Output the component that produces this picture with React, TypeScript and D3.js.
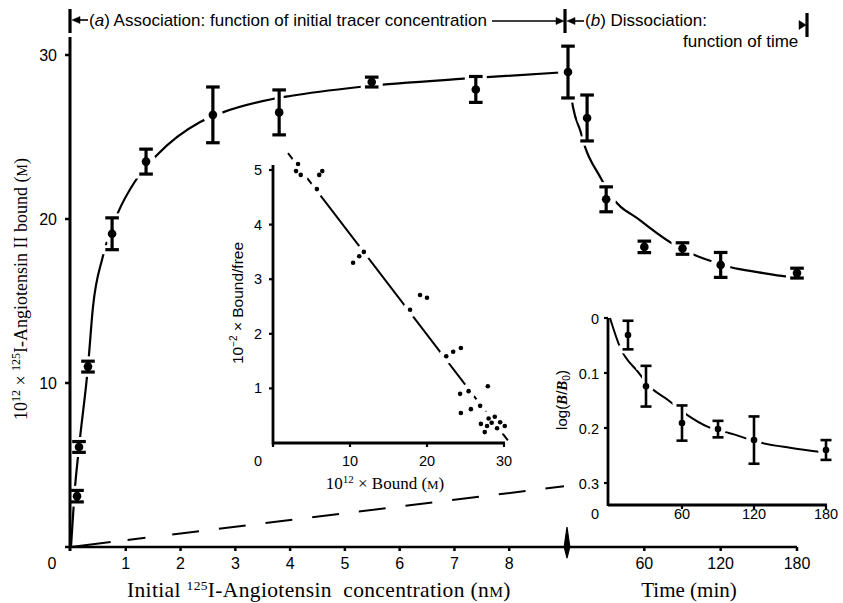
import React from "react";
import * as d3 from "d3";

// ---------- (a) Association: bound vs initial tracer concentration ----------
const assocConc = [0.11, 0.146, 0.31, 0.75, 1.37, 2.59, 3.8, 5.49, 7.39];
const assocBound = [3.1, 6.1, 11.0, 19.1, 23.5, 26.35, 26.5, 28.35, 27.9];
const assocErr = [0.35, 0.33, 0.33, 0.97, 0.76, 1.7, 1.37, 0.3, 0.79];

const assocFitConc = [0, 0.06, 0.15, 0.31, 0.4, 0.58, 0.86, 1.17, 1.57, 2.35, 2.77, 3.66, 4.0, 5.26, 7.38, 9.0];
const assocFitBound = [0, 3.1, 6.2, 11.0, 14.6, 17.7, 20.4, 22.3, 23.9, 25.9, 26.5, 27.3, 27.5, 28.05, 28.6, 28.95];

// ---------- (b) Dissociation: bound vs time ----------
const dissocTime = [0, 15, 30, 60, 90, 120, 180];
const dissocBound = [28.96, 26.16, 21.2, 18.3, 18.2, 17.2, 16.7];
const dissocErr = [1.58, 1.4, 0.76, 0.35, 0.35, 0.76, 0.3];

const dissocFitTime = [0, 4, 10, 13.4, 25, 33, 57, 80, 98, 114, 128, 150, 171, 180];
const dissocFitBound = [28.96, 26.8, 25.3, 24.4, 22.6, 21.5, 19.9, 18.6, 17.85, 17.4, 17.06, 16.75, 16.5, 16.45];

// guide line from origin (main data coords)
const guideConc = [0, 9.0];
const guideBound = [0, 3.7];

// ---------- Inset 1: Scatchard ----------
const scatBound = [3.25, 2.99, 3.6, 6.4, 6.0, 5.7, 10.4, 11.2, 11.8, 17.8, 19.1, 20.0, 22.5, 23.4, 24.4, 24.3, 24.4, 25.4, 25.7, 26.9, 27.9, 27.0, 27.5, 27.8, 28.0, 28.4, 28.8, 29.1, 29.5, 30.1];
const scatBF = [5.11, 4.98, 4.91, 4.98, 4.91, 4.65, 3.3, 3.42, 3.5, 2.44, 2.71, 2.66, 1.59, 1.67, 1.74, 0.9, 0.55, 0.95, 0.62, 0.68, 1.04, 0.35, 0.2, 0.31, 0.45, 0.37, 0.48, 0.27, 0.38, 0.31];
const scatLineBound = [1.95, 30.5];
const scatLineBF = [5.31, 0.05];

// ---------- Inset 2: log(B/B0) vs time ----------
const logTime = [15, 30, 60, 90, 120, 180];
const logVal = [0.031, 0.124, 0.191, 0.202, 0.222, 0.24];
const logErr = [0.026, 0.037, 0.032, 0.015, 0.043, 0.018];
const logFitTime = [0, 8.3, 23.3, 33.3, 48.3, 64.2, 81.7, 104, 122.5, 150, 177.5];
const logFitVal = [0, 0.053, 0.098, 0.125, 0.149, 0.176, 0.198, 0.212, 0.225, 0.236, 0.244];

// ---------- ticks ----------
const concTicks = [1, 2, 3, 4, 5, 6, 7, 8];
const timeTicks = [60, 120, 180];
const boundTicks = [10, 20, 30];
const scatXTicks = [10, 20, 30];
const scatYTicks = [1, 2, 3, 4, 5];
const logXTicks = [60, 120, 180];
const logYTicks = [0, 0.1, 0.2, 0.3];
const logYLabels = ["0", "0.1", "0.2", "0.3"];

const SANS = "'Liberation Sans', Arial, Helvetica, sans-serif";
const SERIF = "'Liberation Serif', 'Times New Roman', Times, serif";

type P = [number, number];

export default function App() {
  const xC = d3.scaleLinear().domain([0, 9]).range([71, 564]);
  const xT = d3.scaleLinear().domain([0, 180]).range([568, 797]);
  const yM = d3.scaleLinear().domain([0, 30]).range([547, 55]);
  const xS = d3.scaleLinear().domain([0, 30]).range([273, 504]);
  const yS = d3.scaleLinear().domain([0, 5]).range([443, 170]);
  const xL = d3.scaleLinear().domain([0, 180]).range([610, 826]);
  const yL = d3.scaleLinear().domain([0, 0.3]).range([318, 483]);

  const smooth = d3.line<P>().curve(d3.curveMonotoneX);
  const straight = d3.line<P>();

  const assocPath = smooth(assocFitConc.map((c, i) => [xC(c), yM(assocFitBound[i])] as P)) || "";
  const dissocPath = smooth(dissocFitTime.map((t, i) => [xT(t), yM(dissocFitBound[i])] as P)) || "";
  const guidePath = straight(guideConc.map((c, i) => [xC(c), yM(guideBound[i])] as P)) || "";
  const scatPath = straight(scatLineBound.map((b, i) => [xS(b), yS(scatLineBF[i])] as P)) || "";
  const logPath = smooth(logFitTime.map((t, i) => [xL(t), yL(logFitVal[i])] as P)) || "";

  type M = { x: number; y: number; y1: number; y2: number };
  const mainMarks: M[] = [
    ...assocConc.map((c, i) => ({ x: xC(c), y: yM(assocBound[i]), y1: yM(assocBound[i] + assocErr[i]), y2: yM(assocBound[i] - assocErr[i]) })),
    ...dissocTime.map((t, i) => ({ x: xT(t), y: yM(dissocBound[i]), y1: yM(dissocBound[i] + dissocErr[i]), y2: yM(dissocBound[i] - dissocErr[i]) })),
  ];
  const logMarks: M[] = logTime.map((t, i) => ({ x: xL(t), y: yL(logVal[i]), y1: yL(logVal[i] - logErr[i]), y2: yL(logVal[i] + logErr[i]) }));
  const scatPts = scatBound.map((b, i) => ({ x: xS(b), y: yS(scatBF[i]) }));

  const halo = (m: M, r: number, sw: number, cw: number, key: string) => (
    <g key={key}>
      <circle cx={m.x} cy={m.y} r={r} fill="#fff" />
      <line x1={m.x} x2={m.x} y1={m.y1} y2={m.y2} stroke="#fff" strokeWidth={sw} strokeLinecap="square" />
      <line x1={m.x - cw} x2={m.x + cw} y1={m.y1} y2={m.y1} stroke="#fff" strokeWidth={sw} strokeLinecap="square" />
      <line x1={m.x - cw} x2={m.x + cw} y1={m.y2} y2={m.y2} stroke="#fff" strokeWidth={sw} strokeLinecap="square" />
    </g>
  );
  const mark = (m: M, r: number, sw: number, cw: number, key: string) => (
    <g key={key}>
      <line x1={m.x} x2={m.x} y1={m.y1} y2={m.y2} stroke="#000" strokeWidth={sw} />
      <line x1={m.x - cw} x2={m.x + cw} y1={m.y1} y2={m.y1} stroke="#000" strokeWidth={sw} />
      <line x1={m.x - cw} x2={m.x + cw} y1={m.y2} y2={m.y2} stroke="#000" strokeWidth={sw} />
      <circle cx={m.x} cy={m.y} r={r} fill="#000" />
    </g>
  );

  const axisY = yM(0);
  const axisX = xC(0) - 1;

  return (
    <svg width={843} height={603} viewBox="0 0 843 603" style={{ position: "absolute", left: 0, top: 0, background: "#fff" }}>
      <rect x={0} y={0} width={843} height={603} fill="#fff" />

      {/* curves */}
      <g fill="none" stroke="#000">
        <path d={assocPath} strokeWidth={2.2} />
        <path d={dissocPath} strokeWidth={2.2} />
        <path d={guidePath} strokeWidth={2} strokeDasharray="40,17,18,27,27,20,27,20,27,20,27,20,27,20,27,20,27,20,27,20,27,20,40,20" />
        <path d={scatPath} strokeWidth={2} />
        <path d={logPath} strokeWidth={2} />
      </g>

      {/* halos that break the curves around markers */}
      {mainMarks.map((m, i) => halo(m, 10, 9, 6.5, "hm" + i))}
      {logMarks.map((m, i) => halo(m, 8, 8, 5.5, "hl" + i))}
      {scatPts.map((p, i) => <circle key={"hs" + i} cx={p.x} cy={p.y} r={7.5} fill="#fff" />)}

      {/* ---------- Main axes ---------- */}
      <g stroke="#000">
        <line x1={axisX} x2={axisX} y1={axisY + 1} y2={37} strokeWidth={3} />
        <line x1={axisX} x2={xT(180)} y1={axisY} y2={axisY} strokeWidth={2.5} />
        {boundTicks.concat([0]).map((b) => (
          <line key={"yt" + b} x1={axisX - 5} x2={axisX} y1={yM(b)} y2={yM(b)} strokeWidth={2.5} />
        ))}
        {concTicks.map((c) => (
          <line key={"xt" + c} x1={xC(c)} x2={xC(c)} y1={axisY} y2={axisY + 4} strokeWidth={2.5} />
        ))}
        {timeTicks.map((t) => (
          <line key={"tt" + t} x1={xT(t)} x2={xT(t)} y1={axisY} y2={axisY + 4} strokeWidth={2.5} />
        ))}
        <line x1={axisX} x2={axisX} y1={axisY} y2={axisY + 4} strokeWidth={3} />
      </g>
      {/* axis break marker */}
      <path d={`M${xT(0) - 1},${axisY - 20} L${xT(0) + 1.8},${axisY} L${xT(0) - 1},${axisY + 11} L${xT(0) - 3.8},${axisY} Z`} fill="#000" stroke="#000" strokeWidth={1.2} />

      {/* main tick labels */}
      <g fontFamily={SANS} fontSize={16} fill="#000">
        {boundTicks.map((b) => (
          <text key={"yl" + b} x={57} y={yM(b)} textAnchor="end" dominantBaseline="central">{b}</text>
        ))}
        <text x={52} y={569} textAnchor="middle">0</text>
        {concTicks.map((c) => (
          <text key={"xl" + c} x={xC(c)} y={569} textAnchor="middle">{c}</text>
        ))}
        {timeTicks.map((t) => (
          <text key={"tl" + t} x={xT(t)} y={569} textAnchor="middle">{t}</text>
        ))}
      </g>

      {/* main axis titles */}
      <text transform="translate(27,289) rotate(-90)" textAnchor="middle" fontFamily={SERIF} fontSize={18} fill="#000">
        10<tspan fontSize={12} dy={-7}>12</tspan>
        <tspan dy={7}> × </tspan>
        <tspan fontSize={12} dy={-7}>125</tspan>
        <tspan dy={7}>I-Angiotensin II bound (</tspan>
        <tspan fontSize={14}>M</tspan>
        <tspan>)</tspan>
      </text>
      <text x={127} y={597} fontFamily={SERIF} fontSize={21.5} letterSpacing={0.35} fill="#000" style={{ whiteSpace: "pre" }}>
        {"Initial "}<tspan fontSize={13.5} dy={-7}>125</tspan>
        <tspan dy={7}>{"I-Angiotensin  concentration (n"}</tspan>
        <tspan fontSize={15.5}>M</tspan>
        <tspan>)</tspan>
      </text>
      <text x={689} y={597} textAnchor="middle" fontFamily={SERIF} fontSize={21} fill="#000">Time (min)</text>

      {/* ---------- Header ---------- */}
      <g stroke="#000" fill="#000">
        <line x1={70} x2={70} y1={9} y2={33} strokeWidth={3.2} />
        <line x1={78} x2={88} y1={20} y2={20} strokeWidth={1.6} />
        <path d="M72,20 L80,16.5 L80,23.5 Z" strokeWidth={0.5} />
        <line x1={492} x2={558} y1={21} y2={21} strokeWidth={1.6} />
        <path d="M564,21 L556,17.5 L556,24.5 Z" strokeWidth={0.5} />
        <line x1={565} x2={565} y1={9} y2={33} strokeWidth={3.2} />
        <line x1={573} x2={584} y1={21} y2={21} strokeWidth={1.6} />
        <path d="M567,21 L575,17.5 L575,24.5 Z" strokeWidth={0.5} />
        <line x1={807} x2={807} y1={13} y2={37} strokeWidth={3.2} />
        <path d="M806,25 L799,20.5 L799,29.5 Z" strokeWidth={0.5} />
      </g>
      <g fontFamily={SANS} fontSize={17} fill="#000">
        <text x={89} y={26}>(<tspan fontStyle="italic">a</tspan>) Association: function of initial tracer concentration</text>
        <text x={585} y={26}>(<tspan fontStyle="italic">b</tspan>) Dissociation:</text>
        <text x={683} y={47}>function of time</text>
      </g>

      {/* ---------- Inset 1 axes ---------- */}
      <g stroke="#000">
        <line x1={xS(0)} x2={xS(0)} y1={yS(0) + 1.5} y2={165} strokeWidth={2.8} />
        <line x1={xS(0)} x2={xS(30) + 1} y1={yS(0)} y2={yS(0)} strokeWidth={2.8} />
        {scatYTicks.map((v) => (
          <line key={"sy" + v} x1={xS(0) - 4} x2={xS(0)} y1={yS(v)} y2={yS(v)} strokeWidth={2.2} />
        ))}
        {[0].concat(scatXTicks).map((v) => (
          <line key={"sx" + v} x1={xS(v)} x2={xS(v)} y1={yS(0)} y2={yS(0) + 4} strokeWidth={2.2} />
        ))}
      </g>
      <g fontFamily={SANS} fontSize={14.5} fill="#000">
        {scatYTicks.map((v) => (
          <text key={"syl" + v} x={262} y={yS(v)} textAnchor="end" dominantBaseline="central">{v}</text>
        ))}
        <text x={258} y={466} textAnchor="middle">0</text>
        {scatXTicks.map((v) => (
          <text key={"sxl" + v} x={xS(v)} y={466} textAnchor="middle">{v}</text>
        ))}
      </g>
      <text transform="translate(243,303) rotate(-90)" textAnchor="middle" fontFamily={SANS} fontSize={15.5} fill="#000">
        10<tspan fontSize={10} dy={-6}>−2</tspan>
        <tspan dy={6}> × Bound/free</tspan>
      </text>
      <text x={385} y={489} textAnchor="middle" fontFamily={SERIF} fontSize={17} fill="#000">
        10<tspan fontSize={11} dy={-6}>12</tspan>
        <tspan dy={6}> × Bound (</tspan>
        <tspan fontSize={13}>M</tspan>
        <tspan>)</tspan>
      </text>

      {/* ---------- Inset 2 axes ---------- */}
      <g stroke="#000">
        <line x1={608} x2={608} y1={318} y2={506} strokeWidth={2.8} />
        <line x1={608} x2={xL(180) + 1} y1={505} y2={505} strokeWidth={2.8} />
        {logYTicks.map((v) => (
          <line key={"ly" + v} x1={604} x2={608} y1={yL(v)} y2={yL(v)} strokeWidth={2.2} />
        ))}
        {logXTicks.map((v) => (
          <line key={"lx" + v} x1={xL(v)} x2={xL(v)} y1={505} y2={509} strokeWidth={2.2} />
        ))}
      </g>
      <g fontFamily={SANS} fontSize={14.5} fill="#000">
        {logYTicks.map((v, i) => (
          <text key={"lyl" + v} x={599} y={yL(v) + 1} textAnchor="end" dominantBaseline="central">{logYLabels[i]}</text>
        ))}
        <text x={595} y={519} textAnchor="middle">0</text>
        {logXTicks.map((v) => (
          <text key={"lxl" + v} x={xL(v)} y={519} textAnchor="middle">{v}</text>
        ))}
      </g>
      <text transform="translate(567,400) rotate(-90)" textAnchor="middle" fontFamily={SANS} fontSize={15} fill="#000">
        log(<tspan fontStyle="italic" fontFamily={SERIF} fontWeight="bold">B</tspan>/<tspan fontStyle="italic" fontFamily={SERIF} fontWeight="bold">B</tspan>
        <tspan fontSize={10} dy={3}>0</tspan>
        <tspan dy={-3}>)</tspan>
      </text>

      {/* ---------- Markers ---------- */}
      {mainMarks.map((m, i) => mark(m, 4.3, 3.2, 6.8, "mm" + i))}
      {logMarks.map((m, i) => mark(m, 3.3, 2.6, 5.5, "lm" + i))}
      {scatPts.map((p, i) => <circle key={"sp" + i} cx={p.x} cy={p.y} r={2.3} fill="#000" />)}
    </svg>
  );
}
